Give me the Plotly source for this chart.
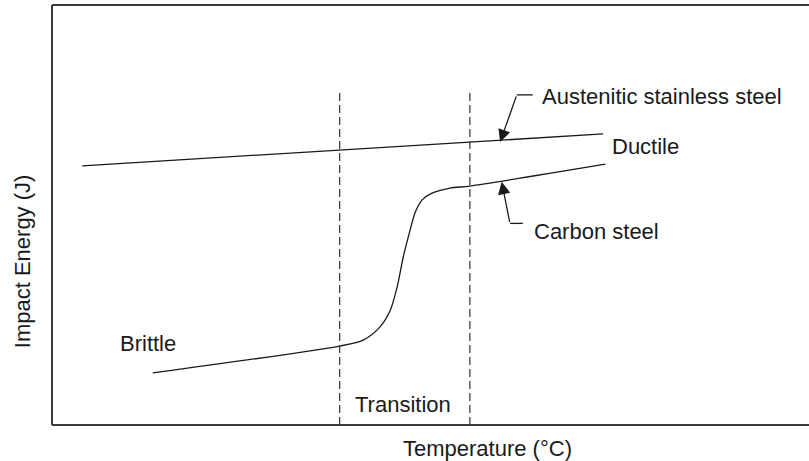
import plotly.graph_objects as go

# Schematic data (temperature and impact energy in arbitrary units, 0-100)
austenitic_temp = [4.0, 72.8]
austenitic_energy = [61.7, 69.3]

carbon_temp = [13.3, 38.0, 41.1, 43.3, 44.7, 45.6, 46.4, 47.2, 48.0, 48.9, 50.2, 52.6, 55.2, 73.1]
carbon_energy = [12.4, 18.8, 20.2, 23.3, 27.4, 32.9, 40.0, 45.7, 50.7, 53.6, 55.2, 56.4, 56.9, 62.1]

transition_bounds = [38.0, 55.2]
transition_top = 80.0

ink = "#1a1a1a"
font_family = "Arial, Liberation Sans, sans-serif"
fsize = 22

fig = go.Figure()

fig.add_trace(go.Scatter(x=austenitic_temp, y=austenitic_energy, mode="lines",
                         line=dict(color=ink, width=1.3), hoverinfo="skip"))
fig.add_trace(go.Scatter(x=carbon_temp, y=carbon_energy, mode="lines",
                         line=dict(color=ink, width=1.3, shape="spline", smoothing=0.8),
                         hoverinfo="skip"))

# transition dashed lines
for xb in transition_bounds:
    fig.add_shape(type="line", x0=xb, x1=xb, y0=0, y1=transition_top, xref="x", yref="y",
                  line=dict(color="#333333", width=1.2, dash="8px,4px"))

# frame: left, top, bottom
for (x0, y0, x1, y1) in [(0, 0, 0, 1), (0, 1, 1, 1), (0, 0, 1, 0)]:
    fig.add_shape(type="line", x0=x0, y0=y0, x1=x1, y1=y1, xref="paper", yref="paper",
                  line=dict(color="#3a3a3a", width=2))

# leader lines (horizontal parts)
fig.add_shape(type="line", x0=61.4, y0=78.6, x1=63.5, y1=78.6, xref="x", yref="y",
              line=dict(color=ink, width=1.3))
fig.add_shape(type="line", x0=60.5, y0=48.0, x1=62.2, y1=48.0, xref="x", yref="y",
              line=dict(color=ink, width=1.3))

annotations = [
    dict(x=59.2, y=67.4, ax=61.4, ay=78.6, axref="x", ayref="y", text="",
         showarrow=True, arrowhead=2, arrowsize=1.9, arrowwidth=1.3, arrowcolor=ink, standoff=0),
    dict(x=59.4, y=57.9, ax=60.5, ay=48.0, axref="x", ayref="y", text="",
         showarrow=True, arrowhead=2, arrowsize=1.9, arrowwidth=1.3, arrowcolor=ink, standoff=0),
    dict(x=64.4, y=78.1, text="Austenitic stainless steel", xanchor="left", yanchor="middle",
         showarrow=False),
    dict(x=73.7, y=66.2, text="Ductile", xanchor="left", yanchor="middle", showarrow=False),
    dict(x=63.4, y=46.0, text="Carbon steel", xanchor="left", yanchor="middle", showarrow=False),
    dict(x=8.7, y=19.3, text="Brittle", xanchor="left", yanchor="middle", showarrow=False),
    dict(x=46.4, y=5.0, text="Transition", xanchor="center", yanchor="middle", showarrow=False),
    dict(x=0.575, y=-0.055, xref="paper", yref="paper", text="Temperature (°C)",
         xanchor="center", yanchor="middle", showarrow=False),
    dict(x=-0.0396, y=0.39, xref="paper", yref="paper", text="Impact Energy (J)", textangle=-90,
         xanchor="center", yanchor="middle", showarrow=False),
]
for a in annotations:
    a.setdefault("xref", "x")
    a.setdefault("yref", "y")
    a["font"] = dict(family=font_family, size=fsize, color=ink)
fig.update_layout(annotations=annotations)

fig.update_layout(
    width=809, height=461,
    margin=dict(l=52, r=0, t=5, b=36),
    paper_bgcolor="white", plot_bgcolor="white",
    showlegend=False,
    xaxis=dict(range=[0, 100], visible=False, fixedrange=True),
    yaxis=dict(range=[0, 100], visible=False, fixedrange=True),
)

fig.write_html("out.html", config={"displayModeBar": False},
               post_script="document.body.style.margin='0';document.body.style.overflow='hidden';")
